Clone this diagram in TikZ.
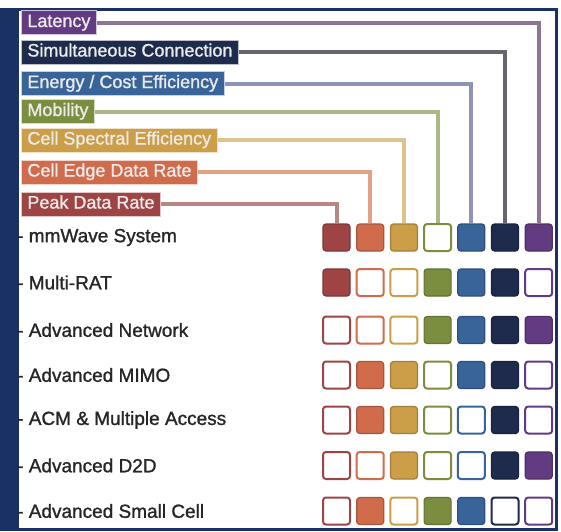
\documentclass[tikz,border=0pt]{standalone}
\usepackage{fontspec}
\setmainfont{Liberation Sans}
\newfontfamily\medfont{Liberation Sans}[FakeBold=1.2]
\usetikzlibrary{calc}

% column colours: peak, edge, spectral, mobility, energy, simultaneous, latency
\definecolor{col1}{HTML}{9E4444}
\definecolor{col2}{HTML}{D06B4C}
\definecolor{col3}{HTML}{CB9E47}
\definecolor{col4}{HTML}{7B8E3F}
\definecolor{col5}{HTML}{38649A}
\definecolor{col6}{HTML}{1F2B4C}
\definecolor{col7}{HTML}{633B82}
\definecolor{ln1}{HTML}{B98783}
\definecolor{ln2}{HTML}{E3A286}
\definecolor{ln3}{HTML}{DCC48E}
\definecolor{ln4}{HTML}{AAB887}
\definecolor{ln5}{HTML}{8E94B5}
\definecolor{ln6}{HTML}{67636F}
\definecolor{ln7}{HTML}{8C7691}
\definecolor{frame}{HTML}{1A3166}

\begin{document}
\begin{tikzpicture}[x=1pt, y=-1pt,
    lab/.style={anchor=west, fill=#1, draw=white!70!#1, line width=.8pt,
        text=white!92!black, inner xsep=6pt, inner ysep=3.5pt,
        text height=13pt, text depth=4pt, font=\medfont\fontsize{18}{18}\selectfont},
    row/.style={anchor=west, inner sep=0pt, text=black!85,
        font=\medfont\fontsize{19}{19}\selectfont},
    full/.style={rounded corners=3pt, minimum size=27pt, inner sep=0pt,
        fill=#1, draw=#1!80!black, line width=1.2pt},
    hollow/.style={rounded corners=3pt, minimum size=27pt, inner sep=0pt,
        fill=white, draw=#1, line width=2pt},
    link/.style={line width=4pt, draw=#1}]
    \def\X{336.5} \def\dx{33.7}
    \useasboundingbox (0, 0) rectangle (561, 531);
    \fill[frame] (0, 8) rectangle (558, 531);
    \fill[white] (19, 11) rectangle (555, 528);

    \node[lab=col7] (lat) at (21, 22.5) {Latency};
    \node[lab=col6] (sim) at (21, 52) {Simultaneous Connection};
    \node[lab=col5] (ener) at (21, 83.5) {Energy / Cost Efficiency};
    \node[lab=col4] (mob) at (21, 111.5) {Mobility};
    \node[lab=col3] (spec) at (21, 140) {Cell Spectral Efficiency};
    \node[lab=col2] (edge) at (21, 172) {Cell Edge Data Rate};
    \node[lab=col1] (peak) at (21, 204) {Peak Data Rate};

    \node[row] (mmw) at (17, 237.5) {- mmWave System};
    \foreach \k [count=\c] in {full,full,full,hollow,full,full,full}
        \node[\k=col\c] (a\c) at ({\X + \dx*(\c-1)}, 237.5) {};
    \node[row] (rat) at (17, 282.5) {- Multi-RAT};
    \foreach \k [count=\c] in {full,hollow,hollow,full,full,full,hollow}
        \node[\k=col\c] (b\c) at ({\X + \dx*(\c-1)}, 282.5) {};
    \node[row] (net) at (17, 330) {- Advanced Network};
    \foreach \k [count=\c] in {hollow,hollow,hollow,full,full,full,full}
        \node[\k=col\c] (c\c) at ({\X + \dx*(\c-1)}, 330) {};
    \node[row] (mimo) at (17, 375) {- Advanced MIMO};
    \foreach \k [count=\c] in {hollow,full,full,hollow,full,full,hollow}
        \node[\k=col\c] (d\c) at ({\X + \dx*(\c-1)}, 375) {};
    \node[row] (acm) at (17, 420) {- ACM \& Multiple Access};
    \foreach \k [count=\c] in {hollow,full,full,hollow,hollow,full,hollow}
        \node[\k=col\c] (e\c) at ({\X + \dx*(\c-1)}, 420) {};
    \node[row] (dtd) at (17, 465.5) {- Advanced D2D};
    \foreach \k [count=\c] in {hollow,hollow,full,hollow,hollow,full,full}
        \node[\k=col\c] (f\c) at ({\X + \dx*(\c-1)}, 465.5) {};
    \node[row] (small) at (17, 511) {- Advanced Small Cell};
    \foreach \k [count=\c] in {hollow,full,hollow,full,full,hollow,hollow}
        \node[\k=col\c] (g\c) at ({\X + \dx*(\c-1)}, 511) {};

    \draw[link=ln1] (peak.east) -| (a1.north);
    \draw[link=ln2] (edge.east) -| (a2.north);
    \draw[link=ln3] (spec.east) -| (a3.north);
    \draw[link=ln4] (mob.east) -| (a4.north);
    \draw[link=ln5] (ener.east) -| (a5.north);
    \draw[link=ln6] (sim.east) -| (a6.north);
    \draw[link=ln7] (lat.east) -| (a7.north);
\end{tikzpicture}
\end{document}
